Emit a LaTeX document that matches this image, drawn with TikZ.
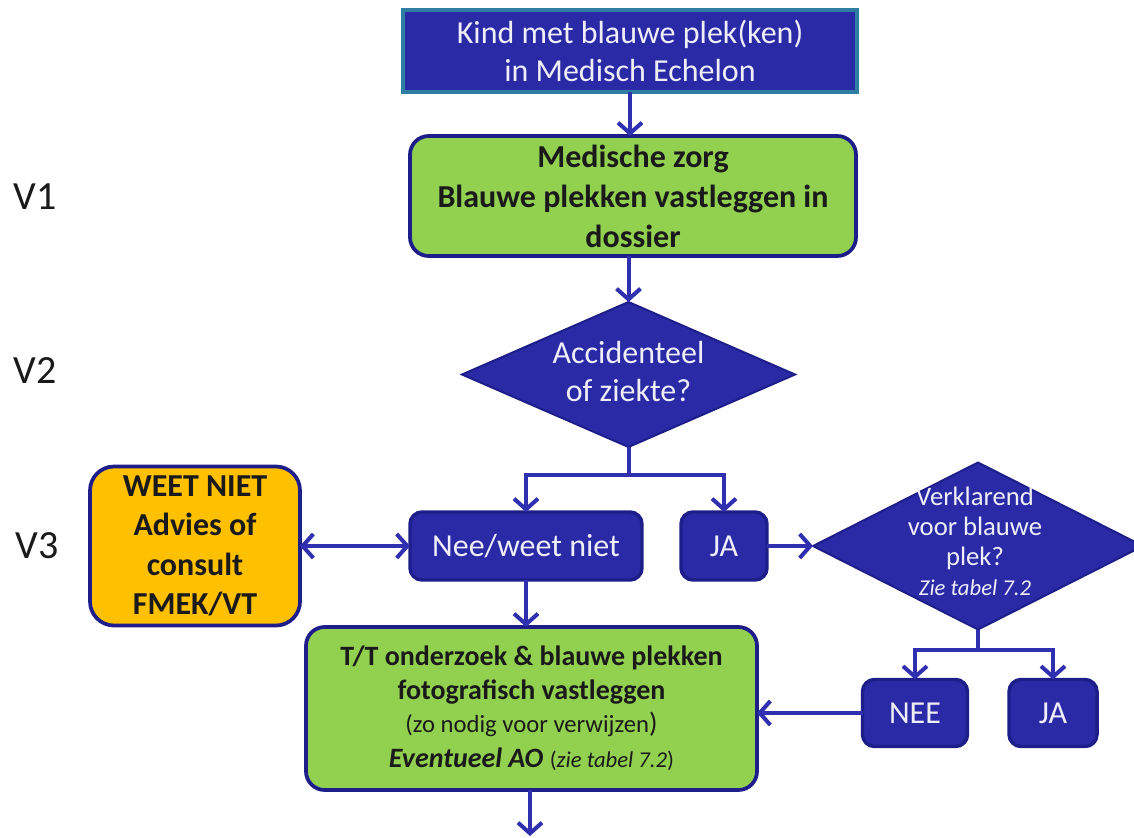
\documentclass[tikz,border=0pt]{standalone}
\usepackage{fontspec}
\setmainfont{Carlito}
\usetikzlibrary{arrows.meta,shapes.geometric}
\definecolor{fillblue}{HTML}{2A2AA6}
\definecolor{navy}{HTML}{1E1E8A}
\definecolor{arrowblue}{HTML}{2F2FB0}
\definecolor{topborder}{HTML}{2E7FA3}
\definecolor{boxgreen}{HTML}{92D050}
\definecolor{boxorange}{HTML}{FFC000}
\definecolor{txtwhite}{HTML}{EEEEF8}
\definecolor{txtdark}{HTML}{1A1A1A}
\begin{document}
\begin{tikzpicture}[x=0.75pt,y=-0.75pt,
  bluebox/.style={draw=navy, line width=2.6pt, fill=fillblue, rounded corners=9pt, text=txtwhite,
    font=\fontsize{24}{29}\selectfont, align=center, inner sep=0pt, outer sep=0pt},
  greenbox/.style={draw=navy, line width=2.8pt, fill=boxgreen, rounded corners=14pt, text=txtdark,
    align=center, inner sep=0pt, outer sep=0pt},
  orangebox/.style={draw=navy, line width=2.8pt, fill=boxorange, rounded corners=18pt, text=txtdark,
    font=\bfseries\fontsize{24}{29.5}\selectfont, align=center, inner sep=0pt, outer sep=0pt},
  decision/.style={diamond, draw=navy, line width=1.5pt, fill=fillblue, inner sep=0pt, outer sep=0pt},
  dtext/.style={text=txtwhite, align=center, inner sep=0pt},
  vlabel/.style={text=txtdark, font=\fontsize{30}{34}\selectfont, inner sep=0pt},
  link/.style={draw=arrowblue, line width=3pt},
  conn/.style={draw=arrowblue, line width=3pt, -{Straight Barb[length=8pt,width=18pt,line width=3pt]}},
  dconn/.style={draw=arrowblue, line width=3pt, {Straight Barb[length=8pt,width=18pt,line width=3pt]}-{Straight Barb[length=8pt,width=18pt,line width=3pt]}}
]
\clip (0,0) rectangle (1134,838);
\fill[white] (0,0) rectangle (1134,838);

% nodes
\node[bluebox, rounded corners=0pt, draw=topborder, minimum width=340.5pt, minimum height=61.5pt] (top) at (630,51)
  {Kind met blauwe plek(ken)\\in Medisch Echelon};
\node[greenbox, font=\bfseries\fontsize{24}{30}\selectfont, minimum width=334.5pt, minimum height=90pt] (g1) at (633,196)
  {Medische zorg\\Blauwe plekken vastleggen in\\dossier};
\node[decision, minimum width=249.75pt, minimum height=108.75pt] (d1) at (628.5,374.5) {};
\node[dtext, font=\fontsize{24}{28.5}\selectfont] (d1t) at (628.5,372) {Accidenteel\\of ziekte?};

\node[bluebox, minimum width=174pt, minimum height=51pt] (nee) at (526,546) {Nee/weet niet};
\node[bluebox, minimum width=64.5pt, minimum height=51pt] (ja1) at (724,546) {JA};

\node[decision, minimum width=247.5pt, minimum height=125.25pt] (d2) at (978,546) {};
\node[dtext, font=\fontsize{20}{22.5}\selectfont] (d2t) at (975,541)
  {Verklarend\\voor blauwe\\plek?\\{\fontsize{17}{22.5}\selectfont\itshape Zie tabel 7.2}};

\node[bluebox, minimum width=78.75pt, minimum height=50.25pt] (neeb) at (915,713) {NEE};
\node[bluebox, minimum width=66pt, minimum height=50.25pt] (ja2) at (1053,713) {JA};

\node[orangebox, minimum width=157.5pt, minimum height=119.25pt] (or) at (195,546)
  {WEET NIET\\Advies of\\consult\\FMEK/VT};

\node[greenbox, font=\fontsize{21}{25}\selectfont, minimum width=338.25pt, minimum height=122.25pt] (g2) at (531.5,708.5)
  {\textbf{T/T onderzoek \& blauwe plekken}\\
   \textbf{fotografisch vastleggen}\\
   {\fontsize{18.5}{25}\selectfont (zo nodig voor verwijzen\fontsize{21}{25}\selectfont)}\\[1.5pt]
   {\bfseries\itshape Eventueel AO} {\fontsize{17}{25}\selectfont(\textit{zie tabel 7.2})}};

\node[vlabel] (v1) at (35,197) {V1};
\node[vlabel] (v2) at (35,371) {V2};
\node[vlabel] (v3) at (37,546) {V3};

% connectors
\coordinate (b1) at (628.5,475);
\coordinate (b2) at (978,650);
\coordinate (endp) at (530,836);

\draw[conn] (top.south) -- (top.south |- g1.north);
\draw[conn] (g1.south -| d1.north) -- (d1.north);
\draw[link] (d1.south) -- (b1);
\draw[conn] (b1) -| (nee.north);
\draw[conn] (b1) -| (ja1.north);
\draw[conn] (ja1.east) -- (d2.west);
\draw[link] (d2.south) -- (b2);
\draw[conn] (b2) -| (neeb.north);
\draw[conn] (b2) -| (ja2.north);
\draw[conn] (neeb.west) -- (g2.east |- neeb.west);
\draw[dconn] (or.east) -- (nee.west);
\draw[conn] (nee.south) -- (nee.south |- g2.north);
\draw[conn] (g2.south -| endp) -- (endp);
\end{tikzpicture}
\end{document}
